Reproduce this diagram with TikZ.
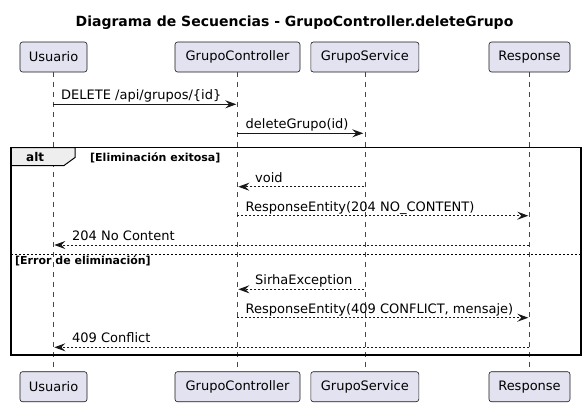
\documentclass[tikz,border=0pt]{standalone}
\usepackage{fontspec}
\setmainfont{DejaVu Sans}
\usetikzlibrary{arrows.meta}
\definecolor{pfill}{HTML}{E2E2F0}
\definecolor{pline}{HTML}{181818}
\definecolor{tabfill}{HTML}{EEEEEE}
\begin{document}
\begin{tikzpicture}[x=1bp,y=-1bp,
 part/.style={draw=pline, fill=pfill, rounded corners=2.5bp, minimum height=30bp, inner sep=0pt, font=\fontsize{13bp}{15bp}\selectfont, text=black, line width=0.6bp},
 life/.style={draw=pline!80, line width=0.5bp, dash pattern=on 5bp off 5bp},
 msg/.style={draw=pline, line width=1bp, -{Stealth[length=11bp,width=8bp,inset=4bp]}, shorten >=1bp},
 ret/.style={msg, dash pattern=on 2bp off 2bp},
 lbl/.style={anchor=base west, inner sep=0pt, font=\fontsize{13bp}{15bp}\selectfont},
 guard/.style={anchor=base west, inner sep=0pt, font=\bfseries\fontsize{11bp}{13bp}\selectfont},
 ttl/.style={anchor=base, inner sep=0pt, font=\bfseries\fontsize{14bp}{16bp}\selectfont},
]
\useasboundingbox (0,0) rectangle (586,406);
\node[ttl] (title) at (294.5,26.7) {Diagrama de Secuencias - GrupoController.deleteGrupo};
% participants
\node[part, minimum width=67bp]  (uT) at (53.5,57) {Usuario};
\node[part, minimum width=125bp] (cT) at (237.5,57) {GrupoController};
\node[part, minimum width=108bp] (sT) at (364.8,57) {GrupoService};
\node[part, minimum width=81bp]  (rT) at (529.5,57) {Response};
\node[part, minimum width=67bp]  (uB) at (53.5,386.7) {Usuario};
\node[part, minimum width=125bp] (cB) at (237.5,386.7) {GrupoController};
\node[part, minimum width=108bp] (sB) at (364.8,386.7) {GrupoService};
\node[part, minimum width=81bp]  (rB) at (529.5,386.7) {Response};
% lifelines
\draw[life] (uT.south) -- (uB.north);
\draw[life] (cT.south) -- (cB.north);
\draw[life] (sT.south) -- (sB.north);
\draw[life] (rT.south) -- (rB.north);
% alt frame
\coordinate (fTL) at (11,147.7);
\coordinate (fBR) at (581,355);
\draw[fill=tabfill, draw=black, line width=1bp] (11,147.7) -- (75,147.7) -- (75,157.5) -- (64,165.5) -- (11,165.5) -- cycle;
\draw[black, line width=1.5bp] (fTL) rectangle (fBR);
\node[anchor=base west, inner sep=0pt, font=\bfseries\fontsize{12bp}{14bp}\selectfont] (alt) at (26,161.7) {alt};
\node[guard] (g1) at (90,161.7) {[Eliminación exitosa]};
\coordinate (sepL) at (11,254);
\coordinate (sepR) at (581,254);
\draw[black, line width=0.8bp, dash pattern=on 2bp off 2bp] (sepL) -- (sepR);
\node[guard] (g2) at (15,264.3) {[Error de eliminación]};
% message coordinates
\coordinate (m1a) at (53.3,104.3);  \coordinate (m1b) at (237.3,104.3);
\coordinate (m2a) at (237.3,133.3); \coordinate (m2b) at (364.3,133.3);
\coordinate (m3a) at (364.3,186.7); \coordinate (m3b) at (237.3,186.7);
\coordinate (m4a) at (237.3,215.7); \coordinate (m4b) at (529.3,215.7);
\coordinate (m5a) at (529.3,245);   \coordinate (m5b) at (53.3,245);
\coordinate (m6a) at (364.3,289.3); \coordinate (m6b) at (237.3,289.3);
\coordinate (m7a) at (237.3,317.7); \coordinate (m7b) at (529.3,317.7);
\coordinate (m8a) at (529.3,347.3); \coordinate (m8b) at (53.3,347.3);
\draw[msg] (m1a) -- (m1b);
\draw[msg] (m2a) -- (m2b);
\draw[ret] (m3a) -- (m3b);
\draw[ret] (m4a) -- (m4b);
\draw[ret] (m5a) -- (m5b);
\draw[ret] (m6a) -- (m6b);
\draw[ret] (m7a) -- (m7b);
\draw[ret] (m8a) -- (m8b);
\node[lbl] (l1) at (61,99.8) {DELETE /api/grupos/\{id\}};
\node[lbl] (l2) at (245.5,128.8) {deleteGrupo(id)};
\node[lbl] (l3) at (255,182.2) {void};
\node[lbl] (l4) at (245.5,211.2) {ResponseEntity(204 NO\_CONTENT)};
\node[lbl] (l5) at (72,240.5) {204 No Content};
\node[lbl] (l6) at (255,284.8) {SirhaException};
\node[lbl] (l7) at (245.5,313.2) {ResponseEntity(409 CONFLICT, mensaje)};
\node[lbl] (l8) at (72,342.8) {409 Conflict};
\end{tikzpicture}
\end{document}
